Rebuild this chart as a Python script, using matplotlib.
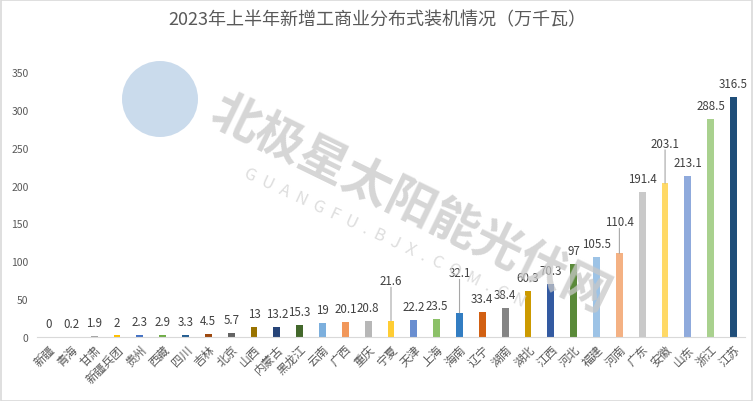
import matplotlib
matplotlib.use('Agg')
import matplotlib.pyplot as plt
from matplotlib.patches import Ellipse, Rectangle

plt.rcParams['font.family'] = ['Noto Sans CJK SC', 'DejaVu Sans']

title = '2023年上半年新增工商业分布式装机情况（万千瓦）'
provinces = ['新疆', '青海', '甘肃', '新疆兵团', '贵州', '西藏', '四川', '吉林', '北京', '山西',
             '内蒙古', '黑龙江', '云南', '广西', '重庆', '宁夏', '天津', '上海', '海南', '辽宁',
             '湖南', '湖北', '江西', '河北', '福建', '河南', '广东', '安徽', '山东', '浙江', '江苏']
values = [0, 0.2, 1.9, 2, 2.3, 2.9, 3.3, 4.5, 5.7, 13,
          13.2, 15.3, 19, 20.1, 20.8, 21.6, 22.2, 23.5, 32.1, 33.4,
          38.4, 60.3, 70.3, 97, 105.5, 110.4, 191.4, 203.1, 213.1, 288.5, 316.5]
colors = ['#5B9BD5', '#ED7D31', '#A5A5A5', '#FFC000', '#4472C4', '#70AD47', '#255E91', '#9E480E',
          '#636363', '#997300', '#264478', '#43682B', '#7CAFDD', '#F1975A', '#B7B7B7', '#FFCD33',
          '#698ED0', '#8CC168', '#327DC2', '#D26012', '#848484', '#CC9A00', '#335AA1', '#5A8A39',
          '#9DC3E6', '#F4B183', '#C9C9C9', '#FFD966', '#8FAADC', '#A9D18E', '#1F4E79']
# labels lifted above their bars with a leader line (extra points)
lifted = {'宁夏': 19, '海南': 19, '河南': 13, '安徽': 19}
yticks = [0, 50, 100, 150, 200, 250, 300, 350]

fig = plt.figure(figsize=(7.54, 4.02), dpi=100)
fig.patch.set_facecolor('white')
fig.patches.append(Rectangle((0.001, 0.001), 0.997, 0.996, transform=fig.transFigure,
                             fill=False, edgecolor='#D9D9D9', linewidth=1.2))

# watermark
fig.patches.append(Ellipse((160 / 754, 1 - 100 / 402), 76 / 754, 76 / 402, transform=fig.transFigure,
                           facecolor='#C5D7EA', edgecolor='none', alpha=0.9, zorder=0))
fig.text(410 / 754, 1 - 205 / 402, '北极星太阳能光伏网', rotation=-26, ha='center', va='center',
         fontsize=35, fontweight='bold', color='#C8C8C8', alpha=0.75, zorder=0)
fig.text(385 / 754, 1 - 238 / 402, 'G  U  A  N  G  F  U  .  B  J  X  .  C  O  M  .  C  N', rotation=-25,
         ha='center', va='center', fontsize=12, color='#D5D5D5', alpha=0.8, zorder=0)

ax = fig.add_axes([37 / 754, 1 - 338 / 402, 708 / 754, 265 / 402])
ax.set_facecolor('none')
x = list(range(len(provinces)))
ax.bar(x, values, width=0.3, color=colors, zorder=2)

for i, (p, v) in enumerate(zip(provinces, values)):
    extra = lifted.get(p, 0)
    ax.annotate(str(v), (i, v), xytext=(0, 5 + extra), textcoords='offset points',
                ha='center', va='bottom', fontsize=8.3, color='#404040', zorder=3)
    if extra:
        ax.annotate('', (i, v), xytext=(0, 5 + extra), textcoords='offset points',
                    arrowprops=dict(arrowstyle='-', color='#A6A6A6', lw=0.8,
                                    shrinkA=0, shrinkB=0))

ax.set_xlim(-0.5, len(provinces) - 0.5)
ax.set_ylim(0, 350)
ax.set_yticks(yticks)
ax.set_xticks(x)
ax.set_xticklabels(provinces, rotation=45, ha='right', rotation_mode='anchor')
ax.tick_params(axis='y', length=0, labelsize=7.5, labelcolor='#595959', pad=6)
ax.tick_params(axis='x', length=0, labelsize=8.5, labelcolor='#595959', pad=4)
for s in ['top', 'right', 'left']:
    ax.spines[s].set_visible(False)
ax.spines['bottom'].set_color('#D9D9D9')

fig.text(0.5, 1 - 20 / 402, title, ha='center', va='center', fontsize=13, color='#595959')

fig.savefig('out.png', dpi=100)
